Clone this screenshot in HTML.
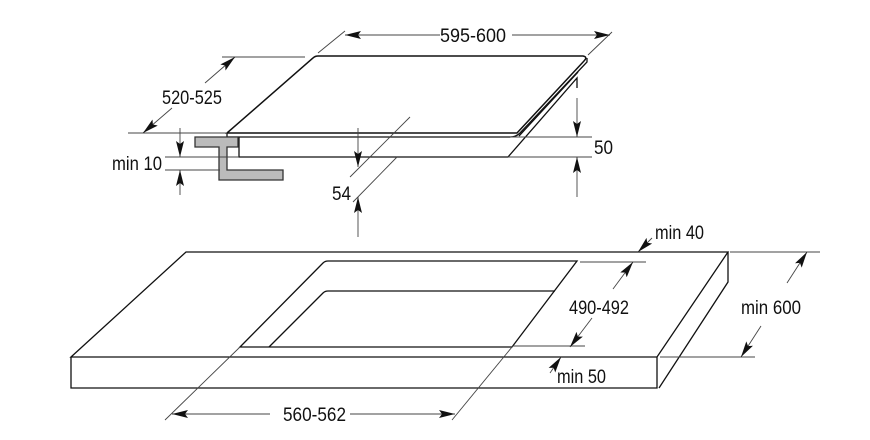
<!DOCTYPE html>
<html><head><meta charset="utf-8"><style>
html,body{margin:0;padding:0;background:#fff;}
svg{display:block;}
text{font-family:"Liberation Sans",sans-serif;font-size:19px;fill:#111;}
</style></head><body>
<svg width="870" height="440" viewBox="0 0 870 440" xmlns="http://www.w3.org/2000/svg">
<defs>
<marker id="a" viewBox="0 0 16 8" refX="16" refY="4" markerWidth="16" markerHeight="8" markerUnits="userSpaceOnUse" orient="auto-start-reverse">
<path d="M0,0 L16,4 L0,8 L3,4 Z" fill="#111"/>
</marker>
</defs>
<g fill="none" stroke="#111" stroke-width="1.3">
<!-- hob -->
<path d="M227,133 L313,58 Q315,56 318,56 L583,56 Q588,57 584,61 L517,133 Z" stroke-width="1.5"/>
<path d="M227,133 L227,137 L510,137 Q516,137 520,133 L587,62 L587,58"/>
<path d="M239,137 L239,157 L508,157 L577,78 L577,88"/>
<path d="M519,136 L578,72"/>
<!-- bracket -->
<path d="M195,137 L238,137 L238,147 L227,147 L227,170 L283,170 L283,180 L219,180 L219,147 L195,147 Z" fill="#bbb" stroke="#333"/>
</g>
<g fill="none" stroke="#444" stroke-width="0.9">
<line x1="318" y1="53" x2="345" y2="31"/>
<line x1="588" y1="55" x2="612" y2="32"/>
<line x1="345" y1="35" x2="440" y2="35" marker-start="url(#a)"/>
<line x1="512" y1="35" x2="610" y2="35" marker-end="url(#a)"/>
<line x1="222" y1="57" x2="305" y2="57"/>
<line x1="128" y1="133" x2="227" y2="133"/>
<line x1="205" y1="83" x2="235" y2="57" marker-end="url(#a)"/>
<line x1="172" y1="108" x2="143" y2="133" marker-end="url(#a)"/>
<line x1="165" y1="157" x2="239" y2="157"/>
<line x1="165" y1="170" x2="220" y2="170"/>
<line x1="180" y1="128" x2="180" y2="157" marker-end="url(#a)"/>
<line x1="180" y1="195" x2="180" y2="170" marker-end="url(#a)"/>
<line x1="510" y1="137" x2="592" y2="137"/>
<line x1="508" y1="157" x2="592" y2="157"/>
<line x1="577" y1="98" x2="577" y2="137" marker-end="url(#a)"/>
<line x1="577" y1="197" x2="577" y2="157" marker-end="url(#a)"/>
<line x1="410" y1="117" x2="350" y2="177"/>
<line x1="397" y1="157" x2="353" y2="202"/>
<line x1="358" y1="128" x2="358" y2="167" marker-end="url(#a)"/>
<line x1="358" y1="237" x2="358" y2="197" marker-end="url(#a)"/>
</g>
<g fill="none" stroke="#111" stroke-width="1.3">
<path d="M71,357 L186,252 L728,252 L657,357 Z"/>
<path d="M71,357 L71,388 L657,388 L657,357"/>
<path d="M728,252 L728,282 L659,388"/>
<path d="M240,347 L323,263 Q325,261 328,261 L577,261 L512,347 Z"/>
<path d="M269,347 L323,293 Q325,291 328,291 L555,291"/>
</g>
<g fill="none" stroke="#444" stroke-width="0.9">
<line x1="240" y1="347" x2="165" y2="420"/>
<line x1="512" y1="347" x2="452" y2="420"/>
<line x1="172" y1="414" x2="270" y2="414" marker-start="url(#a)"/>
<line x1="350" y1="414" x2="455" y2="414" marker-end="url(#a)"/>
<line x1="580" y1="262" x2="646" y2="262"/>
<line x1="512" y1="346" x2="585" y2="346"/>
<line x1="613" y1="289" x2="633" y2="262" marker-end="url(#a)"/>
<line x1="592" y1="318" x2="570" y2="347" marker-end="url(#a)"/>
<line x1="730" y1="252" x2="820" y2="252"/>
<line x1="660" y1="357" x2="755" y2="357"/>
<line x1="787" y1="283" x2="807" y2="252" marker-end="url(#a)"/>
<line x1="761" y1="326" x2="741" y2="357" marker-end="url(#a)"/>
<line x1="652" y1="238" x2="638" y2="252" marker-end="url(#a)"/>
<line x1="550" y1="373" x2="561" y2="357" marker-end="url(#a)"/>
</g>
<text x="440" y="42" textLength="66" lengthAdjust="spacingAndGlyphs">595-600</text>
<text x="162" y="104" textLength="60" lengthAdjust="spacingAndGlyphs">520-525</text>
<text x="112" y="170" textLength="50" lengthAdjust="spacingAndGlyphs">min 10</text>
<text x="594" y="154" textLength="19" lengthAdjust="spacingAndGlyphs">50</text>
<text x="332" y="200" textLength="19" lengthAdjust="spacingAndGlyphs">54</text>
<text x="655" y="239" textLength="49" lengthAdjust="spacingAndGlyphs">min 40</text>
<text x="569" y="314" textLength="60" lengthAdjust="spacingAndGlyphs">490-492</text>
<text x="741" y="314" textLength="60" lengthAdjust="spacingAndGlyphs">min 600</text>
<text x="557" y="383" textLength="49" lengthAdjust="spacingAndGlyphs">min 50</text>
<text x="283" y="421" textLength="63" lengthAdjust="spacingAndGlyphs">560-562</text>
</svg>
</body></html>
